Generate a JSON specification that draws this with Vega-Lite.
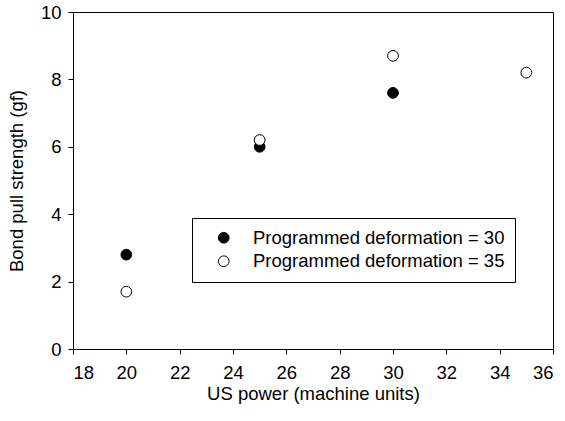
{
  "$schema": "https://vega.github.io/schema/vega-lite/v6.json",
  "width": 480,
  "height": 337,
  "padding": {"left": 73, "top": 12, "right": 12, "bottom": 72},
  "autosize": {"type": "none"},
  "background": "white",
  "config": {
    "font": "Liberation Sans",
    "view": {"stroke": "black", "strokeWidth": 1},
    "axis": {
      "grid": false,
      "domainColor": "black",
      "tickColor": "black",
      "tickSize": 5,
      "labelColor": "black",
      "titleColor": "black",
      "labelFont": "Liberation Sans",
      "titleFont": "Liberation Sans",
      "labelFontSize": 18.5,
      "titleFontSize": 18.5,
      "titleFontWeight": "normal"
    }
  },
  "data": {
    "values": [
      {"power": 20, "strength": 2.8, "series": "Programmed deformation = 30"},
      {"power": 25, "strength": 6.0, "series": "Programmed deformation = 30"},
      {"power": 30, "strength": 7.6, "series": "Programmed deformation = 30"},
      {"power": 20, "strength": 1.7, "series": "Programmed deformation = 35"},
      {"power": 25, "strength": 6.2, "series": "Programmed deformation = 35"},
      {"power": 30, "strength": 8.7, "series": "Programmed deformation = 35"},
      {"power": 35, "strength": 8.2, "series": "Programmed deformation = 35"}
    ]
  },
  "mark": {"type": "point", "shape": "circle", "size": 115, "stroke": "black", "strokeWidth": 1, "opacity": 1},
  "encoding": {
    "x": {
      "field": "power",
      "type": "quantitative",
      "scale": {"domain": [18, 36], "nice": false, "zero": false},
      "axis": {"values": [18, 20, 22, 24, 26, 28, 30, 32, 34, 36], "title": "US power (machine units)", "labelPadding": 9, "titlePadding": 3}
    },
    "y": {
      "field": "strength",
      "type": "quantitative",
      "scale": {"domain": [0, 10], "nice": false},
      "axis": {"values": [0, 2, 4, 6, 8, 10], "title": "Bond pull strength (gf)", "labelPadding": 7, "titlePadding": 14}
    },
    "fill": {
      "field": "series",
      "type": "nominal",
      "scale": {"domain": ["Programmed deformation = 30", "Programmed deformation = 35"], "range": ["black", "white"]},
      "legend": {
        "title": null,
        "orient": "none",
        "legendX": 119,
        "legendY": 206,
        "strokeColor": "black",
        "fillColor": "white",
        "padding": 10.5,
        "symbolOffset": 12,
        "symbolSize": 115,
        "symbolType": "circle",
        "symbolStrokeColor": "black",
        "symbolStrokeWidth": 1,
        "symbolFillColor": "white",
        "labelFontSize": 18.5,
        "labelFont": "Liberation Sans",
        "labelColor": "black",
        "labelOffset": 20,
        "labelLimit": 400,
        "rowPadding": 4.5
      }
    }
  }
}
